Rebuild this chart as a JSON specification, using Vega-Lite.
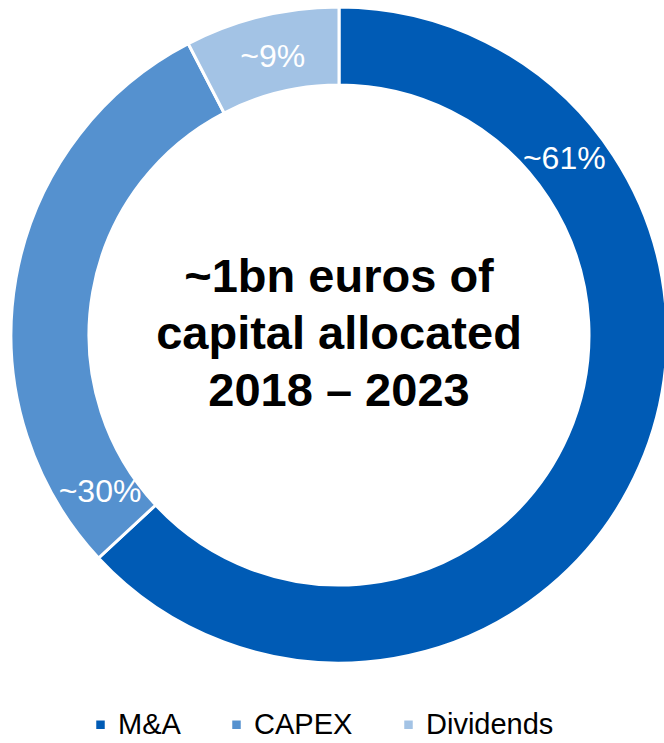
{
  "$schema": "https://vega.github.io/schema/vega-lite/v6.json",
  "width": 650,
  "height": 670,
  "padding": {"left": 14, "top": 0, "right": 0, "bottom": 73},
  "autosize": {"type": "none"},
  "background": "white",
  "config": {"view": {"stroke": null}, "font": "Liberation Sans"},
  "data": {
    "values": [
      {"category": "M&A", "share": 63.1, "label": "~61%"},
      {"category": "CAPEX", "share": 29.3, "label": "~30%"},
      {"category": "Dividends", "share": 7.6, "label": "~9%"}
    ]
  },
  "layer": [
    {
      "mark": {"type": "arc", "outerRadius": 328, "innerRadius": 250, "stroke": "white", "strokeWidth": 3},
      "encoding": {
        "theta": {"field": "share", "type": "quantitative", "stack": true, "scale": {"domain": [0, 100]}},
        "order": {"field": "share", "sort": "descending"},
        "color": {
          "field": "category",
          "type": "nominal",
          "scale": {"domain": ["M&A", "CAPEX", "Dividends"], "range": ["#005BB5", "#5591CF", "#A3C3E5"]},
          "legend": {
            "title": null,
            "orient": "none",
            "direction": "horizontal",
            "legendX": 72,
            "legendY": 710,
            "padding": 0,
            "symbolType": "square",
            "symbolSize": 72,
            "symbolStrokeWidth": 0,
            "labelFontSize": 29,
            "labelFont": "Liberation Sans",
            "labelColor": "black",
            "labelOffset": 3,
            "columnPadding": 41
          }
        }
      }
    },
    {
      "transform": [
        {"stack": "share", "groupby": [], "sort": [{"field": "share", "order": "descending"}], "as": ["s0", "s1"]},
        {"filter": "datum.category === 'M&A'"}
      ],
      "mark": {"type": "text", "radius": 286, "thetaOffset": 0.907, "fontSize": 32, "color": "white", "align": "center", "baseline": "middle"},
      "encoding": {
        "theta": {"field": "s0", "type": "quantitative", "stack": null, "scale": {"domain": [0, 100]}},
        "text": {"field": "label"}
      }
    },
    {
      "transform": [
        {"stack": "share", "groupby": [], "sort": [{"field": "share", "order": "descending"}], "as": ["s0", "s1"]},
        {"filter": "datum.category === 'CAPEX'"}
      ],
      "mark": {"type": "text", "radius": 286, "thetaOffset": 0.166, "fontSize": 32, "color": "white", "align": "center", "baseline": "middle"},
      "encoding": {
        "theta": {"field": "s0", "type": "quantitative", "stack": null, "scale": {"domain": [0, 100]}},
        "text": {"field": "label"}
      }
    },
    {
      "transform": [
        {"stack": "share", "groupby": [], "sort": [{"field": "share", "order": "descending"}], "as": ["s0", "s1"]},
        {"filter": "datum.category === 'Dividends'"}
      ],
      "mark": {"type": "text", "radius": 286, "thetaOffset": 0.244, "fontSize": 32, "color": "white", "align": "center", "baseline": "middle"},
      "encoding": {
        "theta": {"field": "s0", "type": "quantitative", "stack": null, "scale": {"domain": [0, 100]}},
        "text": {"field": "label"}
      }
    },
    {
      "data": {"values": [{"note": ["~1bn euros of", "capital allocated", "2018 – 2023"]}]},
      "mark": {"type": "text", "fontSize": 47, "fontWeight": "bold", "color": "black", "align": "center", "baseline": "middle", "lineHeight": 57, "dy": -57},
      "encoding": {"text": {"field": "note"}}
    }
  ]
}
